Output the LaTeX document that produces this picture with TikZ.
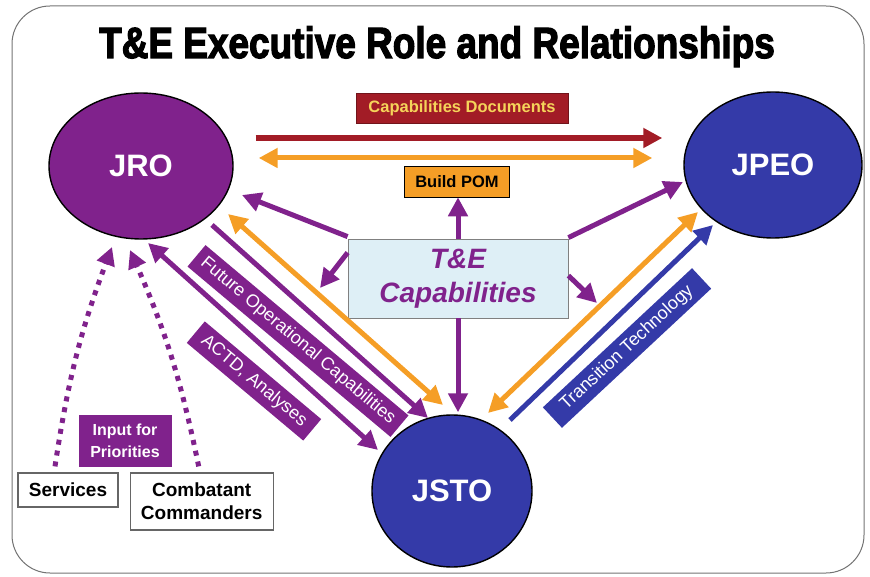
\documentclass[tikz,border=0pt]{standalone}
\usepackage{fontspec}
\setmainfont{Liberation Sans}
\newfontfamily\titlefont[FakeBold=3]{Liberation Sans Bold}
\usepackage{graphicx}
\usepackage{xcolor}
\usetikzlibrary{arrows.meta,positioning,shapes.geometric}
\definecolor{tepurple}{RGB}{128,34,140}
\definecolor{teblue}{RGB}{52,58,168}
\definecolor{tered}{RGB}{162,28,38}
\definecolor{teorange}{RGB}{245,158,38}
\definecolor{teyellow}{RGB}{245,212,90}
\definecolor{tecyan}{RGB}{222,239,246}
\tikzset{
  orgnode/.style={ellipse, draw=black, line width=1.4pt, inner sep=0pt, text=white, font=\bfseries\fontsize{31}{31}\selectfont},
  tagbox/.style={draw=black!60, line width=0.6pt, inner sep=0pt, align=center, font=\bfseries\fontsize{16.5}{19}\selectfont},
  slantbox/.style={inner sep=0pt, minimum height=28pt, text=white, font=\fontsize{18}{18}\selectfont},
  unitbox/.style={draw=black!60, fill=white, line width=1.2pt, inner sep=0pt, align=center, font=\bfseries\fontsize{19}{23}\selectfont},
  bigarrow/.style={line width=5pt, -{Triangle[length=19pt,width=19pt]}},
  twoarrow/.style={line width=5pt, {Triangle[length=19pt,width=19pt]}-{Triangle[length=19pt,width=19pt]}},
  dotarrow/.style={draw=tepurple, line width=5pt, dash pattern=on 5pt off 6pt, -{Triangle[length=18pt,width=18pt]}}
}

\begin{document}
\begin{tikzpicture}[x=1pt,y=-1pt]
\useasboundingbox (0,0) rectangle (870,577);
\draw[black!55, line width=1pt, rounded corners=38pt] (12,6) rectangle (864,573);
\node[anchor=base] (title) at (437,58) {\scalebox{0.88}[1.04]{\titlefont\fontsize{42}{42}\selectfont T\&E Executive Role and Relationships}};

% the three offices
\node[orgnode, fill=tepurple, minimum width=184pt, minimum height=146pt] (jro) at (141,166) {JRO};
\node[orgnode, fill=teblue, minimum width=178pt, minimum height=146pt] (jpeo) at (773,165) {JPEO};
\node[orgnode, fill=teblue, minimum width=160pt, minimum height=152pt] (jsto) at (452,491) {JSTO};

% labels
\node[tagbox, draw=tered!70!black, fill=tered, text=teyellow, minimum width=212pt, minimum height=30pt] (capdoc) at (462,108) {Capabilities Documents};
\node[tagbox, draw=black, fill=teorange, minimum width=105pt, minimum height=31pt] (pom) at (457,181.5) {Build POM};
\node[draw=black!50, line width=0.8pt, fill=tecyan, minimum width=220pt, minimum height=79pt, align=center, text=tepurple, font=\bfseries\itshape\fontsize{28}{34}\selectfont] (tecap) at (458,278.5) {T\&E\\Capabilities};
\node[slantbox, fill=tepurple, minimum width=265pt, rotate=-40] (futop) at (298,341) {Future Operational Capabilities};
\node[slantbox, fill=tepurple, minimum width=152pt, rotate=-40] (actd) at (254,381) {ACTD, Analyses};
\node[slantbox, fill=teblue, minimum width=204pt, rotate=43] (trans) at (627,348) {Transition Technology};
\node[tagbox, draw=none, fill=tepurple, text=white, minimum width=93pt, minimum height=52pt, font=\bfseries\fontsize{16}{22}\selectfont] (input) at (125,441) {Input for\\Priorities};
\node[unitbox, minimum width=100pt, minimum height=34pt] (serv) at (68,490) {Services};
\node[unitbox, minimum width=143pt, minimum height=57pt, right=11pt of serv.north east, anchor=north west] (comb) {Combatant\\Commanders};

\coordinate (tl) at (320,288);
\coordinate (tr) at (597,303);

% JRO to JPEO
\draw[bigarrow, draw=tered, line width=6pt] ([shift={(22,-28)}]jro.east) -- ([shift={(-21,-27)}]jpeo.west);
\draw[twoarrow, draw=teorange] ([shift={(25,-8)}]jro.east) -- ([shift={(-31,-7)}]jpeo.west);

% out of the T&E capabilities
\draw[bigarrow, draw=tepurple] (tecap.north) -- (tecap.north |- pom.south);
\draw[bigarrow, draw=tepurple] ([shift={(0,-2)}]tecap.north west) -- ([shift={(101,29)}]jro.center);
\draw[bigarrow, draw=tepurple] ([shift={(0,14)}]tecap.north west) -- (tl);
\draw[bigarrow, draw=tepurple] ([shift={(0,-1)}]tecap.north east) -- ([shift={(-90,17)}]jpeo.center);
\draw[bigarrow, draw=tepurple] ([shift={(0,37)}]tecap.north east) -- (tr);
\draw[bigarrow, draw=tepurple, shorten >=2pt] (tecap.south) -- (tecap.south |- jsto.north);

% JRO and JSTO
\draw[twoarrow, draw=teorange] ([shift={(87,48)}]jro.center) -- ([shift={(-9,-86)}]jsto.center);
\draw[bigarrow, draw=tepurple] ([shift={(71,59)}]jro.center) -- ([shift={(-24,-73)}]jsto.center);
\draw[twoarrow, draw=tepurple] ([shift={(7,77)}]jro.center) -- ([shift={(-74,-41)}]jsto.center);

% JPEO and JSTO
\draw[twoarrow, draw=teorange] ([shift={(-75,47)}]jpeo.center) -- ([shift={(36,-78)}]jsto.center);
\draw[bigarrow, draw=teblue] ([shift={(58,-71)}]jsto.center) -- ([shift={(-60,60)}]jpeo.center);

% inputs
\draw[dotarrow] ([shift={(-13,-6)}]serv.north) to[bend left=6] ([shift={(-29,81)}]jro.center);
\draw[dotarrow] ([shift={(-3,-6)}]comb.north) to[bend right=6] ([shift={(-11,84)}]jro.center);
\end{tikzpicture}
\end{document}
